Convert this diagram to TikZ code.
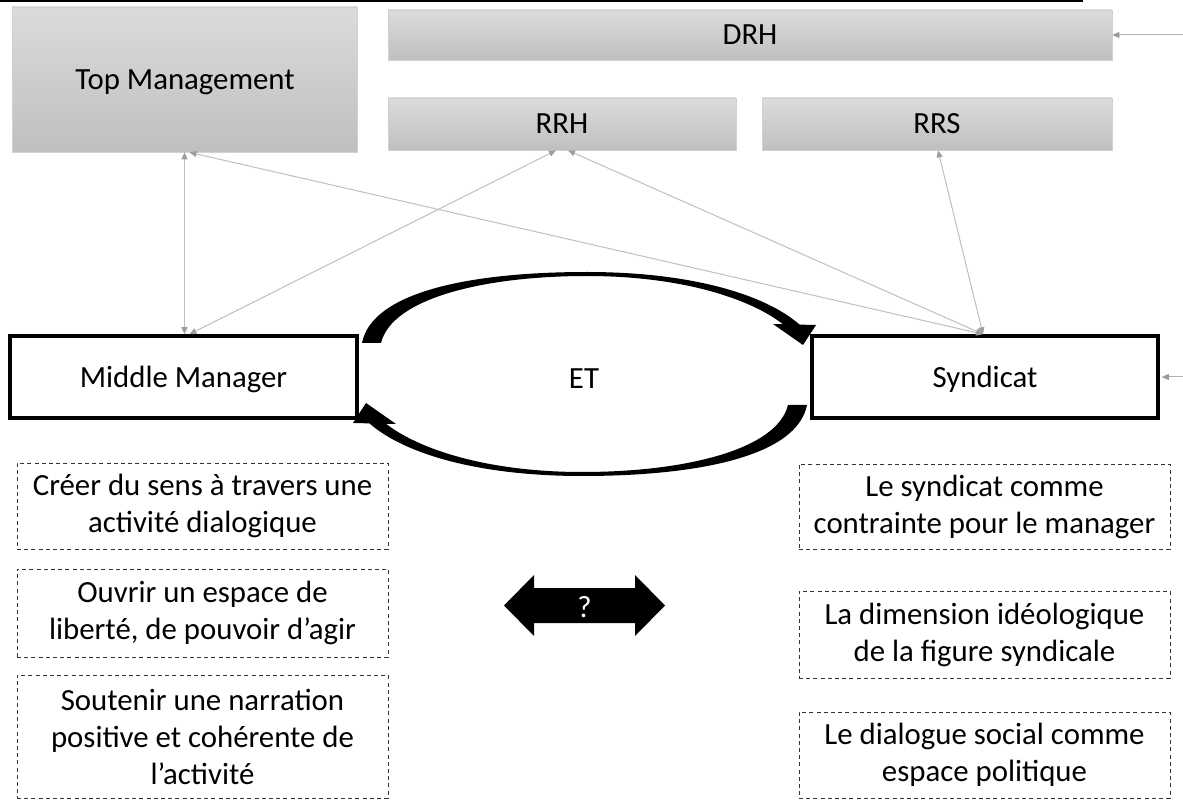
\documentclass[tikz,border=0pt]{standalone}
\usepackage{fontspec}
\setmainfont{Carlito}
\usetikzlibrary{arrows.meta}
\begin{document}
\begin{tikzpicture}[x=0.5pt,y=-0.5pt,
  every node/.style={font=\fontsize{15.4pt}{18.5pt}\selectfont, inner sep=0pt, align=center},
  graybox/.style={draw=black!18, line width=0.4pt, top color=black!14, bottom color=black!25, shading angle=0},
  mainbox/.style={draw=black, line width=1.8pt, fill=white},
  dashbox/.style={draw=black!80, line width=0.5pt, dash pattern=on 2pt off 1.6pt},
  conn/.style={draw=black!25, line width=0.5pt, arrows={Triangle[length=3.5pt,width=3pt,color=black!38]-Triangle[length=3.5pt,width=3pt,color=black!38]}},
  inarrow/.style={draw=black!30, line width=0.5pt, arrows={-Triangle[length=3.5pt,width=3pt,color=black!40]}},
  etarrow/.pic={
    \fill[black] (362,343) .. controls (372,292) and (470,272) .. (587,272)
      .. controls (690,272) and (765,294) .. (800,325)
      -- (784,325) .. controls (750,298) and (680,276) .. (587,276)
      .. controls (485,276) and (392,298) .. (381,343) -- cycle;
    \fill[black] (773,324) -- (816,325) -- (803,345) -- cycle;
  }]
\useasboundingbox (0,0) rectangle (1183,812);
\fill[white] (0,0) rectangle (1183,812);
\draw[line width=1pt] (0,1) -- (1083,1);

% gray boxes
\node[graybox, minimum width=172.5pt, minimum height=72.5pt] (TM) at (184.5,79.5) {};
\node at (185,82) {Top Management};
\node[graybox, minimum width=362pt, minimum height=25pt] (DRH) at (750,35) {DRH};
\node[graybox, minimum width=174pt, minimum height=26pt] (RRH) at (562,124) {RRH};
\node[graybox, minimum width=175pt, minimum height=26pt] (RRS) at (937,124) {RRS};

% main boxes
\node[mainbox, minimum width=173.5pt, minimum height=41pt] (MM) at (183.5,377) {};
\node at (183.5,379) {Middle Manager};
\node[mainbox, minimum width=173pt, minimum height=41pt] (Syn) at (985,377) {};
\node at (985,379) {Syndicat};
\node (ET) at (584,379) {ET};

% curved arrows
\pic at (0,0) {etarrow};
\pic[rotate=180] at (1169,748) {etarrow};

% connectors
\draw[conn] (TM.south) -- (TM.south |- MM.north);
\draw[conn] ([xshift=2.5pt]TM.south) -- ([xshift=-1pt]Syn.north);
\draw[conn] ([xshift=3pt]MM.north) -- ([xshift=-3pt]RRH.south);
\draw[conn] ([xshift=3pt]RRH.south) -- ([xshift=-1pt]Syn.north);
\draw[conn] ([xshift=0.5pt]RRS.south) -- ([xshift=-1pt]Syn.north);
\coordinate (inD) at (1183,35);
\coordinate (inS) at (1183,377);
\draw[inarrow] (inD) -- (DRH.east);
\draw[inarrow] (inS) -- ([xshift=1pt]Syn.east);

% dashed boxes left
\node[dashbox, minimum width=185.5pt, minimum height=43pt] (L1) at (202.5,506) {Créer du sens à travers une\\activité dialogique};
\node[dashbox, minimum width=185.5pt, minimum height=44pt] (L2) at (202.5,613) {Ouvrir un espace de\\liberté, de pouvoir d’agir};
\node[dashbox, minimum width=185.5pt, minimum height=61.5pt] (L3) at (202.5,736.5) {Soutenir une narration\\positive et cohérente de\\l’activité};

% dashed boxes right
\node[dashbox, minimum width=185.5pt, minimum height=42.5pt] (R1) at (984.5,506.5) {Le syndicat comme\\contrainte pour le manager};
\node[dashbox, minimum width=185.5pt, minimum height=43.5pt] (R2) at (984.5,634.5) {La dimension idéologique\\de la figure syndicale};
\node[dashbox, minimum width=185.5pt, minimum height=43pt] (R3) at (984.5,755) {Le dialogue social comme\\espace politique};

% double arrow
\fill[black] (504,605.5) -- (534,575) -- (534,588) -- (635,588) -- (635,575) -- (665,605.5)
  -- (635,636) -- (635,623) -- (534,623) -- (534,636) -- cycle;
\node[text=white] (Q) at (584.5,607) {?};
\end{tikzpicture}
\end{document}
